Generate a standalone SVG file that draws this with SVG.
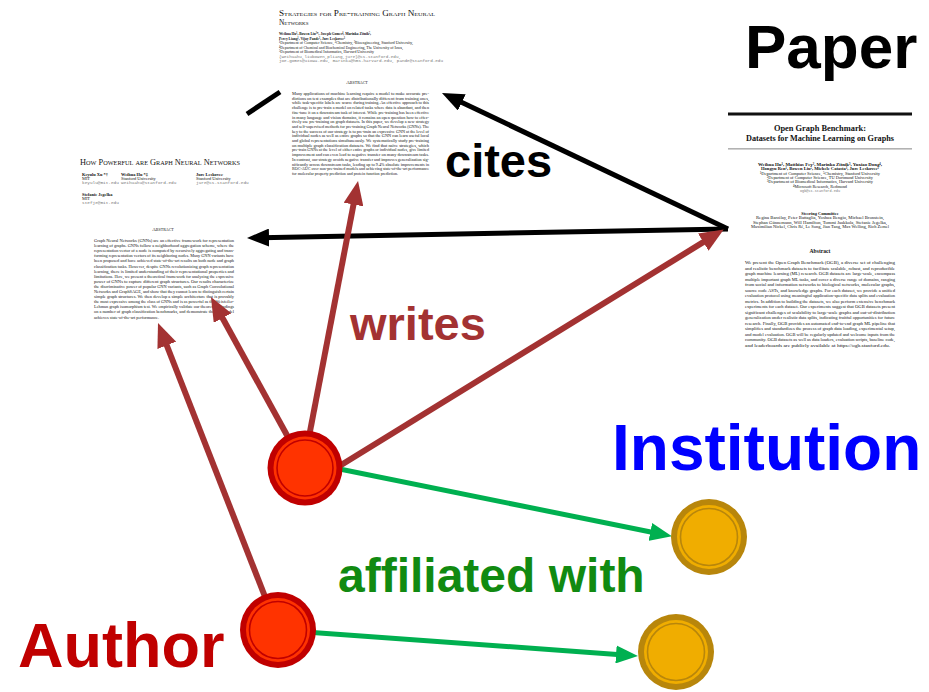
<svg xmlns="http://www.w3.org/2000/svg" width="929" height="692" viewBox="0 0 929 692">
  <style>
    .lbl { font-family: "Liberation Sans", Arial, sans-serif; font-weight: bold; }
    .pp { font-family: "Liberation Serif", "Times New Roman", serif; fill: #111; }
    .sc { font-variant: small-caps; }
    .b { font-weight: bold; }
    .mono { font-family: "Liberation Mono", "Courier New", monospace; fill: #777; }
    .abs { font-size: 4.7px; }
    .auth { font-size: 4.4px; }
  </style>
  <defs>
    <marker id="head-black" viewBox="0 0 22 18" refX="8" refY="9" markerWidth="22" markerHeight="18" markerUnits="userSpaceOnUse" orient="auto">
      <path d="M0,0 L22,9 L0,18 z" fill="#000"/>
    </marker>
    <marker id="head-red" viewBox="0 0 24 20" refX="10" refY="10" markerWidth="24" markerHeight="20" markerUnits="userSpaceOnUse" orient="auto">
      <path d="M0,0 L24,10 L0,20 z" fill="#A33232"/>
    </marker>
    <marker id="head-green" viewBox="0 0 22 18" refX="8" refY="9" markerWidth="22" markerHeight="18" markerUnits="userSpaceOnUse" orient="auto">
      <path d="M0,0 L22,9 L0,18 z" fill="#00B050"/>
    </marker>
  </defs>

  <rect width="929" height="692" fill="#fff"/>

  <!-- Paper: Strategies for Pre-training Graph Neural Networks -->
  <g id="paper-strategies" class="pp">
    <text x="279" y="16" font-size="7.4" class="sc" textLength="156" lengthAdjust="spacingAndGlyphs">Strategies for Pre-training Graph Neural</text>
    <text x="279" y="25" font-size="7.4" class="sc">Networks</text>
    <g class="auth">
      <text x="279" y="35" class="b" textLength="92" lengthAdjust="spacingAndGlyphs">Weihua Hu¹, Bowen Liu²*, Joseph Gomes⁴, Marinka Zitnik⁵,</text>
      <text x="279" y="39.5" class="b" textLength="66" lengthAdjust="spacingAndGlyphs">Percy Liang¹, Vijay Pande³, Jure Leskovec¹</text>
      <text x="279" y="44" textLength="134" lengthAdjust="spacingAndGlyphs">¹Department of Computer Science, ²Chemistry, ³Bioengineering, Stanford University,</text>
      <text x="279" y="48.5" textLength="124" lengthAdjust="spacingAndGlyphs">⁴Department of Chemical and Biochemical Engineering, The University of Iowa,</text>
      <text x="279" y="53" textLength="95" lengthAdjust="spacingAndGlyphs">⁵Department of Biomedical Informatics, Harvard University</text>
      <text x="279" y="57.5" class="mono" textLength="122" lengthAdjust="spacingAndGlyphs">{weihuahu,liubowen,pliang,jure}@cs.stanford.edu,</text>
      <text x="279" y="62" class="mono" textLength="164" lengthAdjust="spacingAndGlyphs">joe-gomes@uiowa.edu, marinka@hms.harvard.edu, pande@stanford.edu</text>
    </g>
    <text x="357" y="84" font-size="5" class="sc" text-anchor="middle">Abstract</text>
    <g class="abs">
      <text x="292" y="95" textLength="137" lengthAdjust="spacingAndGlyphs">Many applications of machine learning require a model to make accurate pre-</text>
      <text x="292" y="99.7" textLength="137" lengthAdjust="spacingAndGlyphs">dictions on test examples that are distributionally different from training ones,</text>
      <text x="292" y="104.4" textLength="137" lengthAdjust="spacingAndGlyphs">while task-specific labels are scarce during training. An effective approach to this</text>
      <text x="292" y="109.1" textLength="137" lengthAdjust="spacingAndGlyphs">challenge is to pre-train a model on related tasks where data is abundant, and then</text>
      <text x="292" y="113.8" textLength="137" lengthAdjust="spacingAndGlyphs">fine-tune it on a downstream task of interest. While pre-training has been effective</text>
      <text x="292" y="118.5" textLength="137" lengthAdjust="spacingAndGlyphs">in many language and vision domains, it remains an open question how to effec-</text>
      <text x="292" y="123.2" textLength="137" lengthAdjust="spacingAndGlyphs">tively use pre-training on graph datasets. In this paper, we develop a new strategy</text>
      <text x="292" y="127.9" textLength="137" lengthAdjust="spacingAndGlyphs">and self-supervised methods for pre-training Graph Neural Networks (GNNs). The</text>
      <text x="292" y="132.6" textLength="137" lengthAdjust="spacingAndGlyphs">key to the success of our strategy is to pre-train an expressive GNN at the level of</text>
      <text x="292" y="137.3" textLength="137" lengthAdjust="spacingAndGlyphs">individual nodes as well as entire graphs so that the GNN can learn useful local</text>
      <text x="292" y="142" textLength="137" lengthAdjust="spacingAndGlyphs">and global representations simultaneously. We systematically study pre-training</text>
      <text x="292" y="146.7" textLength="137" lengthAdjust="spacingAndGlyphs">on multiple graph classification datasets. We find that naïve strategies, which</text>
      <text x="292" y="151.4" textLength="137" lengthAdjust="spacingAndGlyphs">pre-train GNNs at the level of either entire graphs or individual nodes, give limited</text>
      <text x="292" y="156.1" textLength="137" lengthAdjust="spacingAndGlyphs">improvement and can even lead to negative transfer on many downstream tasks.</text>
      <text x="292" y="160.8" textLength="137" lengthAdjust="spacingAndGlyphs">In contrast, our strategy avoids negative transfer and improves generalization sig-</text>
      <text x="292" y="165.5" textLength="137" lengthAdjust="spacingAndGlyphs">nificantly across downstream tasks, leading up to 9.4% absolute improvements in</text>
      <text x="292" y="170.2" textLength="137" lengthAdjust="spacingAndGlyphs">ROC-AUC over non-pre-trained models and achieving state-of-the-art performance</text>
      <text x="292" y="174.9" textLength="106" lengthAdjust="spacingAndGlyphs">for molecular property prediction and protein function prediction.</text>
    </g>
  </g>

  <!-- Paper: How Powerful are Graph Neural Networks -->
  <g id="paper-gin" class="pp">
    <text x="80" y="165" font-size="8" class="sc" textLength="160" lengthAdjust="spacingAndGlyphs">How Powerful are Graph Neural Networks</text>
    <g class="auth">
      <text x="82" y="176" class="b">Keyulu Xu *†</text>
      <text x="82" y="180">MIT</text>
      <text x="82" y="184" class="mono">keyulu@mit.edu</text>
      <text x="121" y="176" class="b">Weihua Hu *‡</text>
      <text x="121" y="180">Stanford University</text>
      <text x="121" y="184" class="mono">weihuahu@stanford.edu</text>
      <text x="196" y="176" class="b">Jure Leskovec</text>
      <text x="196" y="180">Stanford University</text>
      <text x="196" y="184" class="mono">jure@cs.stanford.edu</text>
      <text x="82" y="196" class="b">Stefanie Jegelka</text>
      <text x="82" y="200">MIT</text>
      <text x="82" y="204" class="mono">stefje@mit.edu</text>
    </g>
    <text x="163" y="231" font-size="5" class="sc" text-anchor="middle">Abstract</text>
    <g class="abs">
      <text x="94" y="242" textLength="140" lengthAdjust="spacingAndGlyphs">Graph Neural Networks (GNNs) are an effective framework for representation</text>
      <text x="94" y="247.1" textLength="140" lengthAdjust="spacingAndGlyphs">learning of graphs. GNNs follow a neighborhood aggregation scheme, where the</text>
      <text x="94" y="252.2" textLength="140" lengthAdjust="spacingAndGlyphs">representation vector of a node is computed by recursively aggregating and trans-</text>
      <text x="94" y="257.3" textLength="140" lengthAdjust="spacingAndGlyphs">forming representation vectors of its neighboring nodes. Many GNN variants have</text>
      <text x="94" y="262.4" textLength="140" lengthAdjust="spacingAndGlyphs">been proposed and have achieved state-of-the-art results on both node and graph</text>
      <text x="94" y="267.5" textLength="140" lengthAdjust="spacingAndGlyphs">classification tasks. However, despite GNNs revolutionizing graph representation</text>
      <text x="94" y="272.6" textLength="140" lengthAdjust="spacingAndGlyphs">learning, there is limited understanding of their representational properties and</text>
      <text x="94" y="277.7" textLength="140" lengthAdjust="spacingAndGlyphs">limitations. Here, we present a theoretical framework for analyzing the expressive</text>
      <text x="94" y="282.8" textLength="140" lengthAdjust="spacingAndGlyphs">power of GNNs to capture different graph structures. Our results characterize</text>
      <text x="94" y="287.9" textLength="140" lengthAdjust="spacingAndGlyphs">the discriminative power of popular GNN variants, such as Graph Convolutional</text>
      <text x="94" y="293" textLength="140" lengthAdjust="spacingAndGlyphs">Networks and GraphSAGE, and show that they cannot learn to distinguish certain</text>
      <text x="94" y="298.1" textLength="140" lengthAdjust="spacingAndGlyphs">simple graph structures. We then develop a simple architecture that is provably</text>
      <text x="94" y="303.2" textLength="140" lengthAdjust="spacingAndGlyphs">the most expressive among the class of GNNs and is as powerful as the Weisfeiler-</text>
      <text x="94" y="308.3" textLength="140" lengthAdjust="spacingAndGlyphs">Lehman graph isomorphism test. We empirically validate our theoretical findings</text>
      <text x="94" y="313.4" textLength="140" lengthAdjust="spacingAndGlyphs">on a number of graph classification benchmarks, and demonstrate that our model</text>
      <text x="94" y="318.5" textLength="65" lengthAdjust="spacingAndGlyphs">achieves state-of-the-art performance.</text>
    </g>
  </g>

  <!-- Paper: Open Graph Benchmark -->
  <g id="paper-ogb" class="pp">
    <rect x="728" y="112.5" width="184" height="3" fill="#111"/>
    <text x="820" y="131" font-size="8.4" class="b" text-anchor="middle">Open Graph Benchmark:</text>
    <text x="820" y="140.5" font-size="8.4" class="b" text-anchor="middle" textLength="148" lengthAdjust="spacingAndGlyphs">Datasets for Machine Learning on Graphs</text>
    <rect x="728" y="148.5" width="184" height="0.8" fill="#666"/>
    <g class="auth" text-anchor="middle">
      <text x="820" y="166" class="b" textLength="124" lengthAdjust="spacingAndGlyphs">Weihua Hu¹, Matthias Fey², Marinka Zitnik³, Yuxiao Dong⁴,</text>
      <text x="820" y="170.3" class="b" textLength="118" lengthAdjust="spacingAndGlyphs">Hongyu Ren¹, Bowen Liu⁵, Michele Catasta¹, Jure Leskovec¹</text>
      <text x="820" y="174.6" textLength="120" lengthAdjust="spacingAndGlyphs">¹Department of Computer Science, ⁵Chemistry, Stanford University</text>
      <text x="820" y="178.9" textLength="106" lengthAdjust="spacingAndGlyphs">²Department of Computer Science, TU Dortmund University</text>
      <text x="820" y="183.2" textLength="106" lengthAdjust="spacingAndGlyphs">³Department of Biomedical Informatics, Harvard University</text>
      <text x="820" y="187.5" textLength="54" lengthAdjust="spacingAndGlyphs">⁴Microsoft Research, Redmond</text>
      <text x="820" y="191.8" class="mono" textLength="40" lengthAdjust="spacingAndGlyphs">ogb@cs.stanford.edu</text>
      <text x="820" y="215" class="b">Steering Committee</text>
      <text x="820" y="219.3" textLength="128" lengthAdjust="spacingAndGlyphs">Regina Barzilay, Peter Battaglia, Yoshua Bengio, Michael Bronstein,</text>
      <text x="820" y="223.6" textLength="134" lengthAdjust="spacingAndGlyphs">Stephan Günnemann, Will Hamilton, Tommi Jaakkola, Stefanie Jegelka,</text>
      <text x="820" y="227.9" textLength="138" lengthAdjust="spacingAndGlyphs">Maximilian Nickel, Chris Ré, Le Song, Jian Tang, Max Welling, Rich Zemel</text>
    </g>
    <text x="820" y="253" font-size="5.6" class="b" text-anchor="middle">Abstract</text>
    <g font-size="5px">
      <text x="745" y="264" textLength="150" lengthAdjust="spacingAndGlyphs">We present the Open Graph Benchmark (OGB), a diverse set of challenging</text>
      <text x="745" y="269.5" textLength="150" lengthAdjust="spacingAndGlyphs">and realistic benchmark datasets to facilitate scalable, robust, and reproducible</text>
      <text x="745" y="275" textLength="150" lengthAdjust="spacingAndGlyphs">graph machine learning (ML) research. OGB datasets are large-scale, encompass</text>
      <text x="745" y="280.5" textLength="150" lengthAdjust="spacingAndGlyphs">multiple important graph ML tasks, and cover a diverse range of domains, ranging</text>
      <text x="745" y="286" textLength="150" lengthAdjust="spacingAndGlyphs">from social and information networks to biological networks, molecular graphs,</text>
      <text x="745" y="291.5" textLength="150" lengthAdjust="spacingAndGlyphs">source code ASTs, and knowledge graphs. For each dataset, we provide a unified</text>
      <text x="745" y="297" textLength="150" lengthAdjust="spacingAndGlyphs">evaluation protocol using meaningful application-specific data splits and evaluation</text>
      <text x="745" y="302.5" textLength="150" lengthAdjust="spacingAndGlyphs">metrics. In addition to building the datasets, we also perform extensive benchmark</text>
      <text x="745" y="308" textLength="150" lengthAdjust="spacingAndGlyphs">experiments for each dataset. Our experiments suggest that OGB datasets present</text>
      <text x="745" y="313.5" textLength="150" lengthAdjust="spacingAndGlyphs">significant challenges of scalability to large-scale graphs and out-of-distribution</text>
      <text x="745" y="319" textLength="150" lengthAdjust="spacingAndGlyphs">generalization under realistic data splits, indicating fruitful opportunities for future</text>
      <text x="745" y="324.5" textLength="150" lengthAdjust="spacingAndGlyphs">research. Finally, OGB provides an automated end-to-end graph ML pipeline that</text>
      <text x="745" y="330" textLength="150" lengthAdjust="spacingAndGlyphs">simplifies and standardizes the process of graph data loading, experimental setup,</text>
      <text x="745" y="335.5" textLength="150" lengthAdjust="spacingAndGlyphs">and model evaluation. OGB will be regularly updated and welcome inputs from the</text>
      <text x="745" y="341" textLength="150" lengthAdjust="spacingAndGlyphs">community. OGB datasets as well as data loaders, evaluation scripts, baseline code,</text>
      <text x="745" y="346.5" textLength="145" lengthAdjust="spacingAndGlyphs">and leaderboards are publicly available at https://ogb.stanford.edu.</text>
    </g>
  </g>

  <!-- Edges: cites (black), writes (red), affiliated with (green) -->
  <g id="connectors" fill="none">
    <g stroke="#000" stroke-width="5" marker-end="url(#head-black)">
      <line x1="728" y1="229" x2="261" y2="237.7"/>
      <line x1="728" y1="229" x2="454.6" y2="99"/>
      <line x1="280" y1="92" x2="247" y2="114" marker-end="none"/>
    </g>
    <g stroke="#A33232" stroke-width="6" marker-end="url(#head-red)">
      <line x1="278" y1="630" x2="163.1" y2="336"/>
      <line x1="305" y1="468" x2="217.7" y2="309.3"/>
      <line x1="303" y1="468" x2="355.4" y2="194.7"/>
      <line x1="320" y1="478" x2="711.8" y2="236.9"/>
    </g>
    <g stroke="#00B050" stroke-width="5" marker-end="url(#head-green)">
      <line x1="305" y1="462" x2="658.2" y2="533.5"/>
      <line x1="278" y1="630" x2="624" y2="655"/>
    </g>
  </g>

  <!-- Author nodes -->
  <g id="author-1">
    <circle cx="305" cy="468" r="37.5" fill="#C00000"/>
    <circle cx="305" cy="468" r="31.5" fill="#FF3300"/>
    <circle cx="305" cy="468" r="28" fill="none" stroke="#C00000" stroke-width="1.6"/>
  </g>
  <g id="author-2">
    <circle cx="278" cy="630" r="38" fill="#C00000"/>
    <circle cx="278" cy="630" r="32" fill="#FF3300"/>
    <circle cx="278" cy="630" r="28.5" fill="none" stroke="#C00000" stroke-width="1.6"/>
  </g>

  <!-- Institution nodes -->
  <g id="institution-1">
    <circle cx="709" cy="537" r="38" fill="#B8860B"/>
    <circle cx="709" cy="537" r="32" fill="#F0AD00"/>
    <circle cx="709" cy="537" r="28.5" fill="none" stroke="#B8860B" stroke-width="1.6"/>
  </g>
  <g id="institution-2">
    <circle cx="676" cy="652" r="38" fill="#B8860B"/>
    <circle cx="676" cy="652" r="32" fill="#F0AD00"/>
    <circle cx="676" cy="652" r="28.5" fill="none" stroke="#B8860B" stroke-width="1.6"/>
  </g>

  <!-- Type and relation labels -->
  <g id="labels" class="lbl">
    <text x="745" y="68" font-size="62" fill="#000">Paper</text>
    <text x="445" y="177" font-size="47" fill="#000">cites</text>
    <text x="350" y="340" font-size="47" fill="#A33232">writes</text>
    <text x="612" y="470" font-size="64" fill="#0000FF">Institution</text>
    <text x="338" y="592" font-size="48" fill="#118A11">affiliated with</text>
    <text x="18" y="667" font-size="63" fill="#C00000">Author</text>
  </g>
</svg>
